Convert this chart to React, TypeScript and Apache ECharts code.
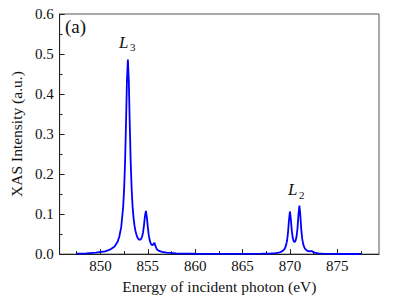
import React, { useEffect, useRef } from "react";
import * as echarts from "echarts";

const energies: number[] = [
  847.5, 848.5, 849.5, 850.5, 851.0, 851.5, 851.8, 852.0, 852.2, 852.4, 852.5, 852.6, 852.7, 852.8, 852.9,
  853.0, 853.1, 853.2, 853.3, 853.4, 853.5, 853.6, 853.7, 853.8, 853.9, 854.0, 854.1, 854.2, 854.3, 854.4,
  854.5, 854.6, 854.7, 854.8, 854.9, 855.0, 855.1, 855.2, 855.3, 855.4, 855.5, 855.6, 855.7, 855.8, 855.9,
  856.0, 856.2, 856.5, 857.0, 858.0, 860.0, 862.0, 864.0, 866.0, 867.0, 868.0, 868.5, 868.8, 869.0, 869.2,
  869.4, 869.5, 869.6, 869.7, 869.8, 869.9, 870.0, 870.1, 870.2, 870.3, 870.4, 870.5, 870.6, 870.7, 870.8,
  870.9, 871.0, 871.1, 871.2, 871.3, 871.4, 871.5, 871.6, 871.8, 872.0, 872.2, 872.3, 872.4, 872.6, 873.0,
  873.5, 874.5, 875.5, 877.5,
];

const intensity: number[] = [
  0.0014, 0.002, 0.0035, 0.007, 0.011, 0.019, 0.03, 0.044, 0.068, 0.117, 0.161, 0.227, 0.323, 0.432, 0.486,
  0.432, 0.323, 0.228, 0.162, 0.118, 0.09, 0.071, 0.058, 0.049, 0.042, 0.038, 0.036, 0.036, 0.038, 0.044,
  0.054, 0.072, 0.095, 0.108, 0.093, 0.068, 0.048, 0.035, 0.027, 0.0235, 0.022, 0.025, 0.028, 0.021, 0.015,
  0.011, 0.008, 0.0055, 0.0037, 0.002, 0.0009, 0.0006, 0.0005, 0.0007, 0.001, 0.0015, 0.0025, 0.0038, 0.0051, 0.0074,
  0.012, 0.016, 0.023, 0.034, 0.054, 0.085, 0.1065, 0.087, 0.058, 0.04, 0.032, 0.03, 0.034, 0.044, 0.065,
  0.098, 0.121, 0.097, 0.061, 0.038, 0.025, 0.018, 0.013, 0.0088, 0.0067, 0.0072, 0.0074, 0.0062, 0.0036, 0.0019,
  0.001, 0.0005, 0.0003, 0.0002,
];

const xMajorTicks: number[] = [850, 855, 860, 865, 870, 875];
const xMinorTicks: number[] = [847.5, 852.5, 857.5, 862.5, 867.5, 872.5, 877.5];

const panelLabel = "(a)";
const peakLabels = [
  { base: "L", sub: "3" },
  { base: "L", sub: "2" },
];
const xTitle = "Energy of incident photon (eV)";
const yTitle = "XAS Intensity (a.u.)";

const FONT = "'Liberation Serif', 'DejaVu Serif', serif";

export default function App() {
  const ref = useRef<HTMLDivElement>(null);
  useEffect(() => {
    document.body.style.margin = "0";
    if (!ref.current) return;
    const chart = echarts.init(ref.current, undefined, { renderer: "svg" });
    const data = energies.map((e, i) => [e, intensity[i]]);
    const axisColor = "#222";
    const txt = "#111";
    chart.setOption({
      animation: false,
      textStyle: { fontFamily: FONT },
      grid: { left: 59, right: 20, top: 14, bottom: 39, show: true, borderColor: "#555", borderWidth: 1, backgroundColor: "transparent" },
      xAxis: [
        {
          type: "value",
          min: 845.7,
          max: 879.4,
          position: "bottom",
          name: xTitle,
          nameLocation: "middle",
          nameGap: 20,
          nameTextStyle: { fontFamily: FONT, fontSize: 15.5, color: txt },
          axisLine: { lineStyle: { color: axisColor, width: 1 } },
          axisTick: { inside: true, length: 5, lineStyle: { color: axisColor }, customValues: xMajorTicks },
          splitLine: { show: false },
          axisLabel: { fontFamily: FONT, fontSize: 15, color: txt, margin: 4, customValues: xMajorTicks },
        },
        {
          type: "value",
          min: 845.7,
          max: 879.4,
          position: "bottom",
          offset: 0,
          axisLine: { show: false },
          axisTick: { show: true, inside: true, length: 3, lineStyle: { color: axisColor }, customValues: xMinorTicks },
          axisLabel: { show: false },
          splitLine: { show: false },
        },
      ],
      yAxis: {
        type: "value",
        min: 0,
        max: 0.6,
        interval: 0.1,
        name: yTitle,
        nameLocation: "middle",
        nameGap: 28,
        nameTextStyle: { fontFamily: FONT, fontSize: 15.5, color: txt },
        axisLine: { show: true, lineStyle: { color: axisColor, width: 1 } },
        axisTick: { show: true, inside: true, length: 5, lineStyle: { color: axisColor } },
        minorTick: { show: true, splitNumber: 2, length: 3, lineStyle: { color: axisColor } },
        splitLine: { show: false },
        axisLabel: { fontFamily: FONT, fontSize: 15, color: txt, margin: 6, formatter: (v: number) => v.toFixed(1) },
      },
      series: [
        {
          type: "line",
          xAxisIndex: 0,
          data,
          showSymbol: false,
          smooth: false,
          lineStyle: { color: "#0000ff", width: 1.8 },
        },
      ],
      graphic: [
        { type: "text", left: 65, top: 17, style: { text: panelLabel, font: `19px ${FONT}`, fill: txt } },
        { type: "text", left: 119, top: 34, style: { text: peakLabels[0].base, font: `italic 17px ${FONT}`, fill: txt } },
        { type: "text", left: 130, top: 41, style: { text: peakLabels[0].sub, font: `11px ${FONT}`, fill: txt } },
        { type: "text", left: 288, top: 181, style: { text: peakLabels[1].base, font: `italic 17px ${FONT}`, fill: txt } },
        { type: "text", left: 299, top: 189, style: { text: peakLabels[1].sub, font: `11px ${FONT}`, fill: txt } },
      ],
    });
    return () => chart.dispose();
  }, []);
  return <div ref={ref} style={{ width: 399, height: 299 }} />;
}
